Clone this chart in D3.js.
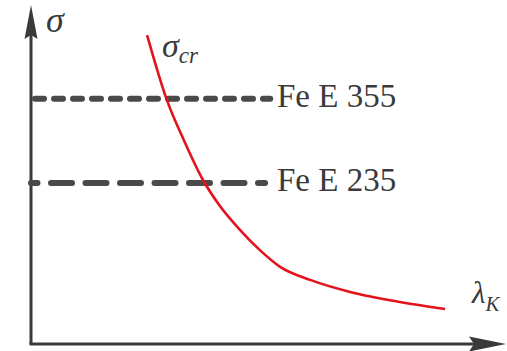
<!DOCTYPE html>
<html>
<head>
<meta charset="utf-8">
<script src="https://cdn.jsdelivr.net/npm/d3@7"></script>
<style>
  body { margin: 0; background: #fff; }
</style>
</head>
<body>
<div id="chart-area"></div>
<script>
const width = 507, height = 351;

// critical stress curve sigma_cr(lambda) (relative units)
const lambdaVals = [24.7, 28.9, 32.6, 36.6, 40.2, 44.5, 48.7, 53.0, 59.4, 67.9, 78.5, 88.1];
const sigmaVals  = [92.5, 73.1, 60.8, 49.1, 41.3, 34.1, 28.1, 23.1, 19.2, 15.6, 12.6, 10.5];

// yield levels of the two steels
const steelNames  = ["Fe E 355", "Fe E 235"];
const steelLevels = [73.4, 48.2];
const steelEnds   = [50.9, 49.8];

const axisColor = "#3a3a3a";

var svg = d3.select("#chart-area").append("svg")
    .attr("width", width)
    .attr("height", height)
    .style("font-family", "'Liberation Serif'");

const x = d3.scaleLinear().domain([0, 100]).range([31, 501]);
const y = d3.scaleLinear().domain([0, 100]).range([344, 10]);

// axes with arrows
svg.append("line")
    .attr("x1", x(0)).attr("y1", y(0))
    .attr("x2", x(0)).attr("y2", 30)
    .attr("stroke", axisColor).attr("stroke-width", 3);
svg.append("line")
    .attr("x1", x(0) - 1.5).attr("y1", y(0))
    .attr("x2", 475).attr("y2", y(0))
    .attr("stroke", axisColor).attr("stroke-width", 3);

svg.append("path")
    .attr("d", `M${x(0)},5 L${x(0) + 6.5},39 L${x(0)},35 L${x(0) - 6.5},39 Z`)
    .attr("fill", axisColor);
svg.append("path")
    .attr("d", `M506,${y(0)} L469,${y(0) - 7.5} L474,${y(0)} L469,${y(0) + 7.5} Z`)
    .attr("fill", axisColor);

// dashed steel levels
const dashes = [{a: "9,10", off: 0}, {a: "21,13.5", off: 14.5}];
svg.selectAll("line.level")
    .data(steelLevels)
    .enter().append("line")
    .attr("class", "level")
    .attr("x1", (d, i) => i == 0 ? x(0) + 4 : x(0))
    .attr("x2", (d, i) => x(steelEnds[i]))
    .attr("y1", d => y(d))
    .attr("y2", d => y(d))
    .attr("stroke", "#4a4a4a")
    .attr("stroke-width", 6)
    .attr("stroke-linecap", "round")
    .attr("stroke-dasharray", (d, i) => dashes[i].a)
    .attr("stroke-dashoffset", (d, i) => dashes[i].off);

svg.selectAll("text.level")
    .data(steelNames)
    .enter().append("text")
    .attr("class", "level")
    .attr("x", 277)
    .attr("y", (d, i) => y(steelLevels[i]) + 8)
    .attr("fill", axisColor)
    .attr("font-size", 33)
    .text(d => d);

// sigma_cr curve
const line = d3.line()
    .x(d => x(d[0]))
    .y(d => y(d[1]))
    .curve(d3.curveMonotoneX);

svg.append("path")
    .datum(d3.zip(lambdaVals, sigmaVals))
    .attr("d", line)
    .attr("fill", "none")
    .attr("stroke", "#e3121b")
    .attr("stroke-width", 2.6);

// labels
svg.append("text")
    .attr("x", 46).attr("y", 32)
    .attr("fill", axisColor)
    .attr("font-size", 36).attr("font-style", "italic")
    .text("σ");

var scr = svg.append("text")
    .attr("x", 162).attr("y", 57)
    .attr("fill", axisColor)
    .attr("font-size", 34).attr("font-style", "italic");
scr.append("tspan").text("σ");
scr.append("tspan").attr("font-size", 23).attr("dy", 6).text("cr");

var lk = svg.append("text")
    .attr("x", 472).attr("y", 303)
    .attr("fill", axisColor)
    .attr("font-size", 31).attr("font-style", "italic");
lk.append("tspan").text("λ");
lk.append("tspan").attr("font-size", 21).attr("dy", 8).text("K");
</script>
</body>
</html>
